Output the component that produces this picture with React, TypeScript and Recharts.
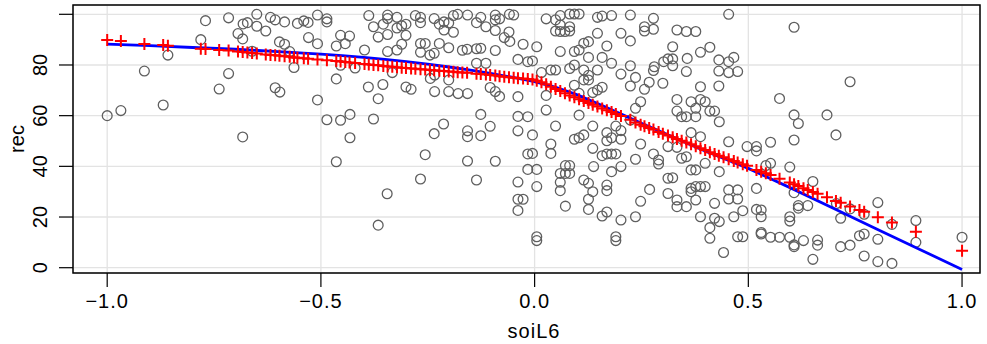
import { ScatterChart, Scatter, XAxis, YAxis, CartesianGrid, ReferenceArea } from "recharts";

// axis ticks
const xTicks = [-1, -0.5, 0, 0.5, 1];
const yTicks = [0, 20, 40, 60, 80, 100];
const xDomain = [-1.08, 1.042];
const yDomain = [-2.09, 103.67];

// observed points: [soiL6, rec]
const observed: [number, number][] = [
  [-1.0, 60], [-0.968, 62], [-0.913, 77.6], [-0.869, 64.2], [-0.858, 83.9], [-0.77, 97.5], [-0.781, 90],
  [-0.716, 98.6], [-0.682, 96.2], [-0.672, 96.7], [-0.65, 100], [-0.65, 95.3], [-0.629, 93.4], [-0.618, 98.8],
  [-0.607, 97.8], [-0.585, 97], [-0.555, 96.4], [-0.694, 92.4], [-0.683, 90.3], [-0.661, 85.4], [-0.597, 89.1],
  [-0.585, 88.2], [-0.573, 85.3], [-0.563, 79], [-0.716, 76.6], [-0.738, 70.5], [-0.607, 71], [-0.596, 69.3],
  [-0.683, 51.6],
  [-0.54, 97.4], [-0.53, 96.8], [-0.508, 99.7], [-0.486, 98.2], [-0.486, 97], [-0.529, 90.8], [-0.508, 88.4],
  [-0.454, 91.7], [-0.433, 91.4], [-0.464, 87.5], [-0.443, 88.4], [-0.454, 79.9], [-0.42, 78.8], [-0.464, 74.5],
  [-0.508, 66.2], [-0.486, 58.4], [-0.454, 58.2], [-0.432, 60.5], [-0.432, 51.3], [-0.464, 41.8], [-0.388, 99.5],
  [-0.377, 95.1], [-0.354, 96.1], [-0.344, 99.7], [-0.344, 98.3], [-0.322, 98.8], [-0.322, 94.6], [-0.311, 95.5],
  [-0.301, 96.1], [-0.301, 91.7], [-0.366, 91], [-0.344, 92], [-0.398, 85.9], [-0.344, 85.3], [-0.322, 85.9],
  [-0.311, 88.2], [-0.333, 77], [-0.389, 71.3], [-0.355, 72.3], [-0.366, 66.7], [-0.377, 58.7], [-0.301, 71.3],
  [-0.289, 70.4], [-0.345, 29.2], [-0.366, 16.8], [-0.279, 99.5], [-0.267, 98.8], [-0.267, 96.7], [-0.235, 98.3],
  [-0.223, 96.1], [-0.212, 97], [-0.212, 93.8], [-0.201, 96.6], [-0.19, 99.5], [-0.19, 92.9], [-0.18, 100],
  [-0.157, 99.7], [-0.136, 96.7], [-0.126, 98.8], [-0.114, 95.1], [-0.092, 99.7], [-0.092, 97.8], [-0.082, 98.2],
  [-0.092, 93.6], [-0.071, 90.8], [-0.058, 89.3], [-0.06, 93], [-0.049, 99.7], [-0.267, 88.5], [-0.256, 88.5],
  [-0.267, 85], [-0.245, 83.9], [-0.235, 84.6], [-0.223, 88.5], [-0.201, 86.8], [-0.169, 85.8], [-0.158, 86.2],
  [-0.136, 86.4], [-0.126, 86.6], [-0.092, 85.7], [-0.039, 82.2], [-0.244, 74.7], [-0.234, 76], [-0.201, 74.1],
  [-0.136, 80.7], [-0.114, 80.7], [-0.234, 69.5], [-0.201, 69.5], [-0.179, 68.7], [-0.157, 68.7], [-0.104, 71.1],
  [-0.092, 69.5], [-0.082, 67.6], [-0.039, 67.5], [-0.213, 56.7], [-0.235, 52.9], [-0.126, 60.5], [-0.104, 55.8],
  [-0.157, 54], [-0.157, 51.7], [-0.126, 52.1], [-0.256, 44.6], [-0.157, 42.1], [-0.092, 42], [-0.267, 35],
  [-0.136, 34.6], [-0.039, 59.7], [-0.039, 54], [-0.039, 33.8], [-0.039, 27], [-0.039, 22.6], [-0.059, 100],
  [-0.027, 27], [-0.027, 88.2], [-0.016, 81.3], [-0.005, 81.6], [0.005, 87.2], [0.016, 77], [0.027, 98.2],
  [0.049, 97.8], [0.06, 99.5], [0.082, 100.1], [0.093, 100.1], [0.104, 100.1], [0.06, 95.8], [0.049, 93.4],
  [0.06, 93.2], [0.071, 93.2], [0.082, 93.4], [0.082, 95.1], [0.06, 85.3], [0.093, 85.3], [0.104, 85.9],
  [0.115, 88.6], [0.126, 89.2], [0.147, 92.5], [0.147, 98.8], [0.158, 99.3], [0.18, 99.5], [0.224, 99.7],
  [0.278, 98.4], [0.202, 92.5], [0.224, 89.5], [0.257, 95.1], [0.257, 93.4], [0.278, 94.1], [0.333, 93.8],
  [0.355, 93.2], [0.377, 93.2], [0.454, 100], [0.169, 87.5], [0.126, 83], [0.158, 83], [0.18, 80.7],
  [0.202, 76.4], [0.224, 79.7], [0.236, 75.1], [0.224, 71.7], [0.257, 70.4], [0.268, 73.2], [0.28, 79.3],
  [0.278, 77.8], [0.3, 72.8], [0.302, 81.3], [0.312, 82.4], [0.323, 82.4], [0.323, 79.7], [0.323, 87.2],
  [0.357, 82.6], [0.355, 77.4], [0.388, 85], [0.41, 87], [0.431, 82], [0.454, 81.3], [0.466, 83],
  [0.431, 77.6], [0.454, 77], [0.475, 77.4], [0.431, 71.7], [0.388, 71.4], [0.038, 78], [0.049, 78],
  [0.082, 78.6], [0.093, 80], [0.115, 78], [0.126, 75.9], [0.147, 78], [0.115, 74.1], [0.126, 74.1],
  [0.093, 72], [0.136, 69.1], [0.147, 70.1], [0.158, 71.2], [0.104, 68.8], [0.027, 68], [0.027, 62.2],
  [0.104, 60.2], [0.049, 55.9], [0.136, 55.9], [0.093, 50.7], [0.104, 51.3], [0.115, 52.4], [0.169, 53.3],
  [0.169, 50.1], [0.18, 51.3], [0.202, 50.7], [0.19, 55.9], [0.202, 54.1], [0.224, 58.3], [0.236, 62.9],
  [0.248, 65.5], [0.333, 66.4], [0.333, 61.8], [0.344, 59.6], [0.355, 59.6], [0.366, 65.5], [0.377, 62.9],
  [0.388, 66.4], [0.399, 65.5], [0.41, 61.8], [0.421, 61.8], [0.432, 57.6], [0.377, 59.6], [0.366, 53.3],
  [0.038, 48.8], [0.038, 45.1], [-0.016, 44.9], [-0.005, 45.1], [-0.016, 38.8], [0.005, 38.8], [0.005, 32],
  [0.072, 40.3], [0.082, 40.3], [0.06, 37.2], [0.072, 37.2], [0.082, 37.2], [0.06, 30.4], [0.06, 33.7],
  [0.072, 24.3], [0.115, 34.6], [0.126, 33.3], [0.136, 30], [0.126, 27], [0.126, 23], [0.158, 20.4],
  [0.169, 22], [0.202, 18.8], [0.236, 20.1], [0.169, 32.6], [0.169, 30.4], [0.18, 37.9], [0.202, 39.9],
  [0.158, 44.2], [0.169, 44.9], [0.18, 44.9], [0.19, 44.9], [0.136, 47.1], [0.138, 39.9], [0.236, 42.8],
  [0.248, 48.8], [0.278, 44.9], [0.29, 42.5], [0.29, 40.9], [0.312, 47.8], [0.344, 43.2], [0.355, 43.8],
  [0.366, 38.6], [0.377, 38.6], [0.399, 41.2], [0.388, 51.7], [0.333, 47.5], [0.312, 35.3], [0.323, 35.5],
  [0.269, 30.9], [0.248, 26.2], [0.312, 29.3], [0.333, 26.7], [0.333, 24.1], [0.355, 24.1], [0.366, 31.3],
  [0.377, 32], [0.366, 30], [0.388, 32], [0.399, 32], [0.377, 26.7], [0.388, 20.1], [0.421, 25.4],
  [0.421, 19.5], [0.432, 18.2], [0.41, 15.8], [0.41, 11.6], [0.442, 6], [0.454, 30.7], [0.454, 27.1],
  [0.475, 27.1], [0.475, 30.7], [0.466, 20.1], [0.475, 12.2], [0.454, 49.7], [0.432, 37.9], [0.005, 12.2],
  [0.005, 10.7], [0.19, 12.2], [0.19, 10.7], [-0.016, 59.6], [-0.005, 52.4],
  [0.487, 22.5], [0.487, 12.2], [0.497, 47.8], [0.519, 47.8], [0.519, 46.1], [0.552, 49.5], [0.552, 41.2],
  [0.541, 40.3], [0.519, 31.3], [0.519, 23], [0.53, 22.8], [0.53, 20.1], [0.53, 13.9], [0.53, 13.3],
  [0.552, 12], [0.573, 66.8], [0.573, 12], [0.597, 39.7], [0.597, 20.1], [0.597, 18.4], [0.597, 12],
  [0.607, 94.9], [0.607, 60.3], [0.617, 56.9], [0.607, 50.4], [0.607, 29.6], [0.617, 24.5], [0.617, 23.5],
  [0.607, 8.3], [0.607, 9], [0.629, 10.7], [0.639, 24.5], [0.651, 34], [0.651, 3.3], [0.662, 10.9],
  [0.662, 8.9], [0.684, 60.3], [0.705, 52.4], [0.706, 25.3], [0.716, 19.5], [0.716, 8.3], [0.738, 73.4],
  [0.738, 8.9], [0.738, 23.2], [0.76, 12.6], [0.771, 13.3], [0.771, 4.6], [0.771, 21.1], [0.803, 25.7],
  [0.803, 11.2], [0.803, 2.4], [0.836, 1.7], [0.836, 17.1], [0.892, 18.6], [0.892, 10], [1.0, 12],
];

// fitted values (red crosses): [soiL6, fit]
const fitted: [number, number][] = [
  [-1.0, 89.9], [-0.968, 89.5], [-0.913, 88.3], [-0.869, 87.9], [-0.858, 87.6], [-0.781, 86.4], [-0.77, 86.3],
  [-0.738, 85.9], [-0.716, 85.7], [-0.694, 85.3], [-0.683, 85.1], [-0.672, 84.9], [-0.661, 84.7], [-0.65, 84.5],
  [-0.629, 84.1], [-0.618, 83.9], [-0.607, 83.8], [-0.597, 83.6], [-0.585, 83.4], [-0.573, 83.2], [-0.563, 83],
  [-0.555, 82.9], [-0.54, 82.7], [-0.53, 82.5], [-0.508, 82.2], [-0.486, 81.9], [-0.464, 81.6], [-0.454, 81.4],
  [-0.443, 81.2], [-0.433, 81], [-0.42, 80.8], [-0.398, 80.4], [-0.388, 80.2], [-0.377, 80], [-0.366, 79.9],
  [-0.354, 79.6], [-0.344, 79.4], [-0.333, 79.3], [-0.322, 79.1], [-0.311, 78.9], [-0.301, 78.8], [-0.289, 78.6],
  [-0.279, 78.5], [-0.267, 78.3], [-0.256, 78.2], [-0.245, 78], [-0.235, 77.9], [-0.223, 77.7], [-0.212, 77.6],
  [-0.201, 77.4], [-0.19, 77.3], [-0.18, 77.1], [-0.169, 77], [-0.158, 76.9], [-0.136, 76.5], [-0.126, 76.4],
  [-0.114, 76.2], [-0.104, 76], [-0.092, 75.8], [-0.082, 75.6], [-0.071, 75.4], [-0.06, 75.2], [-0.049, 75],
  [-0.039, 74.8], [-0.027, 74.7], [-0.016, 74.5], [-0.005, 74.3], [0.005, 73.8], [0.016, 73.2], [0.027, 72.4],
  [0.038, 71.4], [0.049, 70.5], [0.06, 69.7], [0.071, 68.8], [0.082, 68], [0.093, 67.3], [0.104, 66.5],
  [0.115, 65.8], [0.126, 65], [0.136, 64.3], [0.147, 63.6], [0.158, 62.8], [0.169, 62.1], [0.18, 61.4],
  [0.19, 60.7], [0.202, 59.9], [0.224, 58.4], [0.236, 57.3], [0.248, 56.4], [0.257, 55.8], [0.268, 55.1],
  [0.278, 54.5], [0.29, 53.6], [0.3, 52.9], [0.312, 52.2], [0.323, 51.5], [0.333, 50.8], [0.344, 50.1],
  [0.355, 49.4], [0.366, 48.7], [0.377, 47.9], [0.388, 47.1], [0.399, 46.4], [0.41, 45.6], [0.421, 44.9],
  [0.431, 44.2], [0.442, 43.6], [0.454, 42.8], [0.466, 42.1], [0.475, 41.5], [0.487, 40.8], [0.497, 40.2],
  [0.519, 38.6], [0.53, 37.9], [0.541, 37.3], [0.552, 36.6], [0.573, 35.1], [0.597, 33.6], [0.607, 32.9],
  [0.617, 32.2], [0.629, 31.4], [0.639, 30.7], [0.651, 29.9], [0.662, 29.2], [0.684, 27.8], [0.705, 26.3],
  [0.716, 25.6], [0.738, 24.2], [0.76, 22.8], [0.771, 22.1], [0.803, 19.9], [0.836, 17.8], [0.892, 14.2],
  [1.0, 6.7],
];

// smooth curve (blue)
const curveX = [
  -1.0, -0.9, -0.8, -0.7, -0.6, -0.5, -0.45, -0.4, -0.35, -0.3, -0.25, -0.2, -0.15, -0.1, -0.05, 0.0,
  0.05, 0.1, 0.15, 0.2, 0.25, 0.3, 0.35, 0.4, 0.45, 0.5, 0.6, 0.7, 0.8, 0.9, 1.0,
];
const curveY = [
  88.2, 87.6, 86.9, 86.2, 85.3, 84.3, 83.7, 83.0, 82.2, 81.3, 80.3, 79.2, 78.0, 76.6, 75.1, 73.4,
  71.2, 68.2, 64.6, 60.8, 57.0, 53.3, 49.6, 46.0, 42.6, 39.2, 31.4, 23.4, 15.3, 7.3, -0.7,
];

const obsData = observed.map(([x, y]) => ({ x, y }));
const fitData = fitted.map(([x, y]) => ({ x, y }));
const curveData = curveX.map((x, i) => ({ x, y: curveY[i] }));

const FONT = "'Liberation Sans', Arial, Helvetica, sans-serif";

const Ring = (p: any) => (
  <circle cx={p.cx} cy={p.cy} r={4.9} fill="none" stroke="#5f5f5f" strokeWidth={1.3} />
);

const Plus = (p: any) => (
  <path
    d={`M${p.cx - 6},${p.cy}H${p.cx + 6}M${p.cx},${p.cy - 6}V${p.cy + 6}`}
    stroke="#ff0000"
    strokeWidth={2}
    fill="none"
  />
);

const fmtX = (v: number) => (v < 0 ? "\u2212" + Math.abs(v).toFixed(1) : v.toFixed(1));

const XTick = (p: any) => (
  <text
    x={p.x}
    y={301}
    textAnchor="middle"
    dominantBaseline="central"
    fontSize={20}
    letterSpacing={1}
    fontFamily={FONT}
    fill="#000"
  >
    {fmtX(p.payload.value)}
  </text>
);

const YTick = (p: any) => {
  if (p.payload.value === 100) return <g />;
  return (
    <text
      x={40}
      y={p.y}
      transform={`rotate(-90 40 ${p.y})`}
      textAnchor="middle"
      dominantBaseline="central"
      fontSize={20}
      fontFamily={FONT}
      fill="#000"
    >
      {p.payload.value}
    </text>
  );
};

export default function App() {
  return (
    <div style={{ position: "absolute", left: 0, top: 0, width: 987, height: 344, background: "#fff" }}>
      <ScatterChart width={987} height={344} margin={{ top: 5, right: 7, bottom: 0, left: 0 }}>
        <CartesianGrid stroke="#e3e3e3" strokeWidth={1.3} />
        <XAxis
          type="number"
          dataKey="x"
          domain={xDomain}
          ticks={xTicks}
          interval={0}
          allowDataOverflow
          height={71}
          axisLine={false}
          tickSize={14}
          tickLine={{ stroke: "#000", strokeWidth: 1.2 }}
          tick={<XTick />}
          label={{
            content: () => (
              <text
                x={534}
                y={331}
                textAnchor="middle"
                dominantBaseline="central"
                fontSize={20}
                letterSpacing={1}
                fontFamily={FONT}
                fill="#000"
              >
                soiL6
              </text>
            ),
          }}
        />
        <YAxis
          type="number"
          dataKey="y"
          domain={yDomain}
          ticks={yTicks}
          interval={0}
          allowDataOverflow
          width={73}
          axisLine={false}
          tickSize={14}
          tickLine={{ stroke: "#000", strokeWidth: 1.2 }}
          tick={<YTick />}
          label={{
            content: () => (
              <text
                x={17}
                y={139}
                transform="rotate(-90 17 139)"
                textAnchor="middle"
                dominantBaseline="central"
                fontSize={20}
                fontFamily={FONT}
                fill="#000"
              >
                rec
              </text>
            ),
          }}
        />
        <ReferenceArea
          x1={xDomain[0]}
          x2={xDomain[1]}
          y1={yDomain[0]}
          y2={yDomain[1]}
          fill="none"
          stroke="#000"
          strokeWidth={1.5}
          ifOverflow="visible"
        />
        <Scatter data={obsData} shape={<Ring />} isAnimationActive={false} />
        <Scatter
          data={curveData}
          line={{ stroke: "#0000ff", strokeWidth: 2.8 }}
          lineType="joint"
          shape={() => <g />}
          isAnimationActive={false}
        />
        <Scatter data={fitData} shape={<Plus />} isAnimationActive={false} />
      </ScatterChart>
    </div>
  );
}
